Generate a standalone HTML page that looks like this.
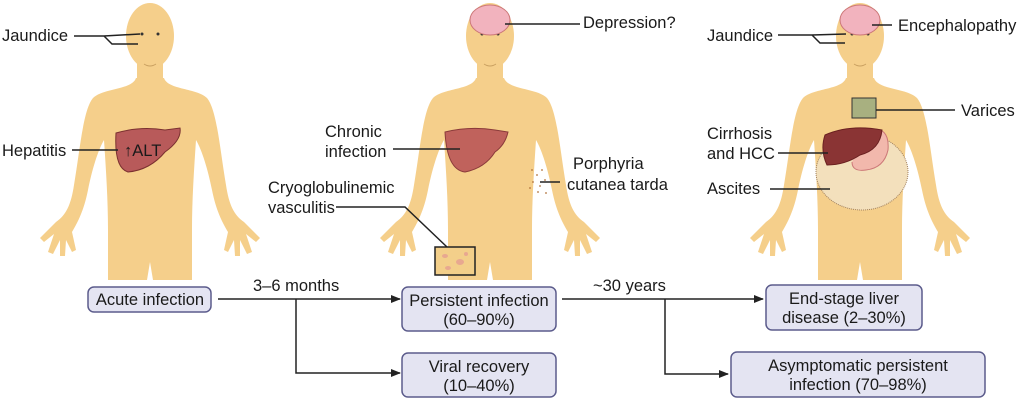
<!DOCTYPE html>
<html><head><meta charset="utf-8"><style>
html,body{margin:0;padding:0;background:#fff;}
svg{display:block;font-family:"Liberation Sans",sans-serif;}
text{font-size:16.5px;fill:#1a1a1a;}
</style></head><body>
<svg width="1024" height="409" viewBox="0 0 1024 409" xmlns="http://www.w3.org/2000/svg">
<defs>
<g id="body" fill="#f5cf8b">
<ellipse cx="0" cy="36" rx="24" ry="33"/>
<rect x="-13" y="55" width="26" height="35"/>
<path d="M -14 78 L 14 78 C 18 90 47 88 57 98 C 67 110 70 150 76 185 C 79 205 84 215 94 222 L 110 238 L 106 242 L 96 234 L 102 252 L 97 254 L 90 240 L 90 256 L 85 256 L 84 240 L 78 252 L 74 250 L 78 232 C 72 222 66 210 62 190 C 58 170 52 150 46 140 C 44 170 42 200 42 230 L 42 280 L 3 280 L 0 262 L -3 280 L -42 280 L -42 230 C -42 200 -44 170 -46 140 C -52 150 -58 170 -62 190 C -66 210 -72 222 -78 232 L -74 250 L -78 252 L -84 240 L -85 256 L -90 256 L -90 240 L -97 254 L -102 252 L -96 234 L -106 242 L -110 238 L -94 222 C -84 215 -79 205 -76 185 C -70 150 -67 110 -57 98 C -47 88 -18 90 -14 78 Z"/>
<circle cx="-8" cy="34" r="1.5" fill="#333"/><circle cx="8" cy="34" r="1.5" fill="#333"/>
<path d="M -6 64 Q 0 68 6 64" stroke="#c9a060" fill="none"/>
</g>
<marker id="ar" markerWidth="10" markerHeight="10" refX="9" refY="5" orient="auto" markerUnits="userSpaceOnUse"><path d="M0 1 L10 5 L0 9 Z" fill="#222"/></marker>
</defs>

<use href="#body" transform="translate(150,0)"/>
<use href="#body" transform="translate(490,0)"/>
<use href="#body" transform="translate(860,0)"/>

<!-- Figure 1 -->
<path d="M116 133 Q140 126 165 130 L180 128 Q182 140 165 152 Q150 170 128 172 Q114 168 116 133 Z" fill="#b85a5a" stroke="#7a3030"/>
<text x="124" y="156" font-size="17">↑ALT</text>
<g stroke="#222" stroke-width="1.5" fill="none">
<path d="M74 36 L104 36 L140 34 M104 36 L112 44 L138 44"/>
<path d="M72 150 L118 150"/>
</g>
<text x="2" y="41">Jaundice</text>
<text x="2" y="156">Hepatitis</text>

<!-- Figure 2 -->
<ellipse cx="490" cy="20" rx="20" ry="15" fill="#f2b3be" stroke="#c77"/>
<path d="M445 132 Q470 126 495 130 L508 132 Q505 145 495 152 Q485 168 465 172 Q447 170 445 132 Z" fill="#c0625c" stroke="#8a3a3a"/>
<g fill="#b0703a"><circle cx="532" cy="170" r="0.9"/><circle cx="537" cy="175" r="0.9"/><circle cx="533" cy="182" r="0.9"/><circle cx="540" cy="186" r="0.9"/><circle cx="545" cy="180" r="0.9"/><circle cx="538" cy="192" r="0.9"/><circle cx="546" cy="193" r="0.9"/><circle cx="530" cy="188" r="0.9"/><circle cx="542" cy="170" r="0.9"/></g>
<rect x="435" y="247" width="40" height="28" fill="#f3cf8a" stroke="#222" stroke-width="1.5"/>
<g fill="#e8a890"><ellipse cx="445" cy="256" rx="3" ry="2"/><ellipse cx="460" cy="262" rx="4" ry="3"/><ellipse cx="448" cy="268" rx="3" ry="2"/><ellipse cx="466" cy="254" rx="2" ry="2"/></g>
<g stroke="#222" stroke-width="1.5" fill="none">
<path d="M505 24 L580 24"/>
<path d="M393 149 L460 149"/>
<path d="M540 182 L560 182"/>
<path d="M336 207 L405 207 L447 247"/>
</g>
<text x="583" y="28">Depression?</text>
<text x="325" y="137">Chronic</text>
<text x="325" y="157">infection</text>
<text x="573" y="169">Porphyria</text>
<text x="567" y="190">cutanea tarda</text>
<text x="268" y="193">Cryoglobulinemic</text>
<text x="268" y="213">vasculitis</text>

<!-- Figure 3 -->
<ellipse cx="860" cy="20" rx="20" ry="15" fill="#f2b3be" stroke="#c77"/>
<ellipse cx="862" cy="172" rx="46" ry="38" fill="#f3e0bc" stroke="#a08060" stroke-dasharray="1,1"/>
<path d="M868 130 Q890 125 888 150 Q884 168 866 170 Q852 172 852 162" fill="#f2b8ac" stroke="#c77"/>
<path d="M825 135 Q850 124 882 130 Q880 150 860 155 Q845 165 827 165 Q820 150 825 135 Z" fill="#8a3434" stroke="#6a2020"/>
<rect x="852" y="98" width="24" height="20" fill="#a8b080" stroke="#333"/>
<g stroke="#222" stroke-width="1.5" fill="none">
<path d="M778 35 L812 35 L846 34 M812 35 L820 43 L845 43"/>
<path d="M872 25 L892 25"/>
<path d="M876 110 L955 110"/>
<path d="M778 153 L828 153"/>
<path d="M770 189 L830 189"/>
</g>
<text x="707" y="41">Jaundice</text>
<text x="898" y="31">Encephalopathy</text>
<text x="961" y="116">Varices</text>
<text x="707" y="139">Cirrhosis</text>
<text x="707" y="159">and HCC</text>
<text x="707" y="194">Ascites</text>

<!-- Flow -->
<g fill="#e4e4f2" stroke="#5c5c8c" stroke-width="1.5">
<rect x="88" y="287" width="123" height="25" rx="6"/>
<rect x="402" y="287" width="154" height="44" rx="6"/>
<rect x="402" y="353" width="154" height="44" rx="6"/>
<rect x="766" y="285" width="156" height="45" rx="6"/>
<rect x="731" y="352" width="254" height="45" rx="6"/>
</g>
<g stroke="#222" stroke-width="1.5" fill="none">
<path d="M218 299 L400 299" marker-end="url(#ar)"/>
<path d="M296 299 L296 373 L400 373" marker-end="url(#ar)"/>
<path d="M562 299 L763 299" marker-end="url(#ar)"/>
<path d="M665 299 L665 374 L728 374" marker-end="url(#ar)"/>
</g>
<text x="253" y="291">3–6 months</text>
<text x="593" y="291">~30 years</text>
<g text-anchor="middle">
<text x="150" y="305">Acute infection</text>
<text x="479" y="306">Persistent infection</text>
<text x="479" y="325">(60–90%)</text>
<text x="479" y="372">Viral recovery</text>
<text x="479" y="391">(10–40%)</text>
<text x="844" y="304">End-stage liver</text>
<text x="844" y="323">disease (2–30%)</text>
<text x="858" y="371">Asymptomatic persistent</text>
<text x="858" y="390">infection (70–98%)</text>
</g>
</svg>
</body></html>
